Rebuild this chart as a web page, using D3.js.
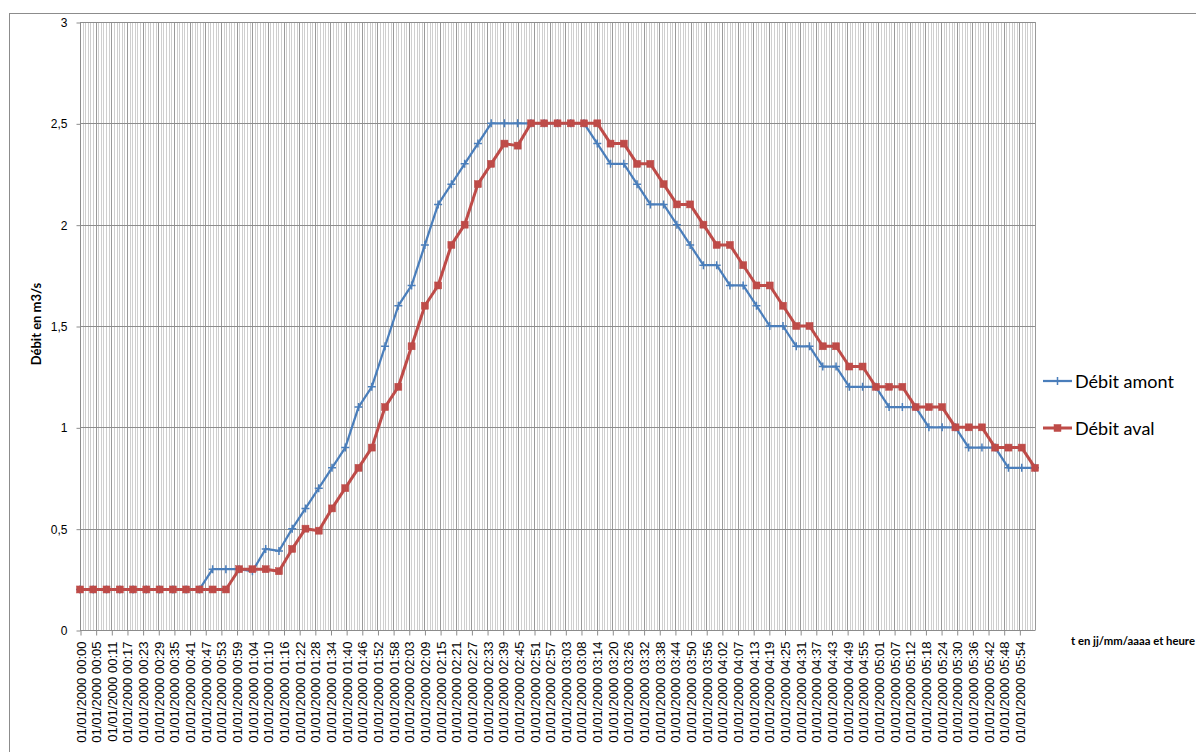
<!DOCTYPE html>
<html>
<head>
<meta charset="utf-8">
<script src="https://cdn.jsdelivr.net/npm/d3@7/dist/d3.min.js"></script>
<style>
  html, body { margin: 0; padding: 0; background: #ffffff; }
  svg { display: block; }
</style>
</head>
<body>
<svg id="chart" width="1196" height="752"></svg>
<script>
// Sampling times of the two discharge series (every 5 minutes)
const times = [
  "00:00","00:05","00:10","00:15","00:20","00:25","00:30","00:35","00:40","00:45",
  "00:50","00:55","01:00","01:05","01:10","01:15","01:20","01:25","01:30","01:35",
  "01:40","01:45","01:50","01:55","02:00","02:05","02:10","02:15","02:20","02:25",
  "02:30","02:35","02:40","02:45","02:50","02:55","03:00","03:05","03:10","03:15",
  "03:20","03:25","03:30","03:35","03:40","03:45","03:50","03:55","04:00","04:05",
  "04:10","04:15","04:20","04:25","04:30","04:35","04:40","04:45","04:50","04:55",
  "05:00","05:05","05:10","05:15","05:20","05:25","05:30","05:35","05:40","05:45",
  "05:50","05:55","06:00"
];

// Upstream discharge (m3/s)
const debitAmont = [
  0.2, 0.2, 0.2, 0.2, 0.2, 0.2, 0.2, 0.2, 0.2, 0.2,
  0.3, 0.3, 0.3, 0.29, 0.4, 0.39, 0.5, 0.6, 0.7, 0.8,
  0.9, 1.1, 1.2, 1.4, 1.6, 1.7, 1.9, 2.1, 2.2, 2.3,
  2.4, 2.5, 2.5, 2.5, 2.5, 2.5, 2.5, 2.5, 2.5, 2.4,
  2.3, 2.3, 2.2, 2.1, 2.1, 2.0, 1.9, 1.8, 1.8, 1.7,
  1.7, 1.6, 1.5, 1.5, 1.4, 1.4, 1.3, 1.3, 1.2, 1.2,
  1.2, 1.1, 1.1, 1.1, 1.0, 1.0, 1.0, 0.9, 0.9, 0.9,
  0.8, 0.8, 0.8
];

// Downstream discharge (m3/s)
const debitAval = [
  0.2, 0.2, 0.2, 0.2, 0.2, 0.2, 0.2, 0.2, 0.2, 0.2,
  0.2, 0.2, 0.3, 0.3, 0.3, 0.29, 0.4, 0.5, 0.49, 0.6,
  0.7, 0.8, 0.9, 1.1, 1.2, 1.4, 1.6, 1.7, 1.9, 2.0,
  2.2, 2.3, 2.4, 2.39, 2.5, 2.5, 2.5, 2.5, 2.5, 2.5,
  2.4, 2.4, 2.3, 2.3, 2.2, 2.1, 2.1, 2.0, 1.9, 1.9,
  1.8, 1.7, 1.7, 1.6, 1.5, 1.5, 1.4, 1.4, 1.3, 1.3,
  1.2, 1.2, 1.2, 1.1, 1.1, 1.1, 1.0, 1.0, 1.0, 0.9,
  0.9, 0.9, 0.8
];

// Category labels shown on the time axis (one every 6 categories)
const xTickLabels = [
  "01/01/2000 00:00","01/01/2000 00:05","01/01/2000 00:11","01/01/2000 00:17",
  "01/01/2000 00:23","01/01/2000 00:29","01/01/2000 00:35","01/01/2000 00:41",
  "01/01/2000 00:47","01/01/2000 00:53","01/01/2000 00:59","01/01/2000 01:04",
  "01/01/2000 01:10","01/01/2000 01:16","01/01/2000 01:22","01/01/2000 01:28",
  "01/01/2000 01:34","01/01/2000 01:40","01/01/2000 01:46","01/01/2000 01:52",
  "01/01/2000 01:58","01/01/2000 02:03","01/01/2000 02:09","01/01/2000 02:15",
  "01/01/2000 02:21","01/01/2000 02:27","01/01/2000 02:33","01/01/2000 02:39",
  "01/01/2000 02:45","01/01/2000 02:51","01/01/2000 02:57","01/01/2000 03:03",
  "01/01/2000 03:08","01/01/2000 03:14","01/01/2000 03:20","01/01/2000 03:26",
  "01/01/2000 03:32","01/01/2000 03:38","01/01/2000 03:44","01/01/2000 03:50",
  "01/01/2000 03:56","01/01/2000 04:02","01/01/2000 04:07","01/01/2000 04:13",
  "01/01/2000 04:19","01/01/2000 04:25","01/01/2000 04:31","01/01/2000 04:37",
  "01/01/2000 04:43","01/01/2000 04:49","01/01/2000 04:55","01/01/2000 05:01",
  "01/01/2000 05:07","01/01/2000 05:12","01/01/2000 05:18","01/01/2000 05:24",
  "01/01/2000 05:30","01/01/2000 05:36","01/01/2000 05:42","01/01/2000 05:48",
  "01/01/2000 05:54"
];

const yTicks = [0, 0.5, 1, 1.5, 2, 2.5, 3];

const categoryCount = 366;   // category intervals spanning the time axis
const labelEvery = 6;        // one label per 6 categories

const svg = d3.select("#chart");
const W = 1196, H = 752;
const plot = { left: 80, right: 1035, top: 22, bottom: 630 };

// Chart area frame
svg.append("rect")
  .attr("x", 9.5).attr("y", 13.5)
  .attr("width", W + 20).attr("height", H + 20)
  .attr("fill", "#ffffff")
  .attr("stroke", "#8c8c8c").attr("stroke-width", 1);

const toMinutes = t => { const [h, m] = t.split(":").map(Number); return h * 60 + m; };

const x = d3.scaleLinear()
  .domain([0, toMinutes(times[times.length - 1])])
  .range([plot.left, plot.right]);
const xCat = d3.scaleLinear()
  .domain([0, categoryCount])
  .range([plot.left, plot.right]);
const y = d3.scaleLinear()
  .domain([0, 3])
  .range([plot.bottom, plot.top]);

const grid = svg.append("g");

// Minor category gridlines
const cats = d3.range(0, categoryCount + 1);
grid.selectAll("line.minor")
  .data(cats.filter(c => c % labelEvery !== 0))
  .join("line")
  .attr("class", "minor")
  .attr("x1", d => Math.round(xCat(d)) + 0.5)
  .attr("x2", d => Math.round(xCat(d)) + 0.5)
  .attr("y1", plot.top).attr("y2", plot.bottom)
  .attr("stroke", "#cfcfcf").attr("stroke-width", 1);

// Major gridlines at labelled categories
grid.selectAll("line.major")
  .data(cats.filter(c => c % labelEvery === 0))
  .join("line")
  .attr("class", "major")
  .attr("x1", d => Math.round(xCat(d)) + 0.5)
  .attr("x2", d => Math.round(xCat(d)) + 0.5)
  .attr("y1", plot.top).attr("y2", plot.bottom)
  .attr("stroke", "#9a9a9a").attr("stroke-width", 1);

// Horizontal value gridlines
grid.selectAll("line.h")
  .data(yTicks)
  .join("line")
  .attr("class", "h")
  .attr("x1", plot.left).attr("x2", plot.right)
  .attr("y1", d => Math.round(y(d)) + 0.5)
  .attr("y2", d => Math.round(y(d)) + 0.5)
  .attr("stroke", "#8c8c8c").attr("stroke-width", 1);

// Y axis
const fmtFr = d => String(d).replace(".", ",");
const yAxis = d3.axisLeft(y).tickValues(yTicks).tickFormat(fmtFr).tickSize(4).tickPadding(9);
const gy = svg.append("g").attr("transform", `translate(${plot.left + 0.5},0.5)`).call(yAxis);
gy.select(".domain").attr("stroke", "#8c8c8c").attr("d", `M0,${plot.top}V${plot.bottom}`);
gy.selectAll(".tick line").attr("stroke", "#8c8c8c");
gy.selectAll(".tick text")
  .attr("font-family", "'Liberation Sans', Arial, sans-serif")
  .attr("font-size", 12).attr("fill", "#000");

// X axis (category labels, rotated)
const labelCats = xTickLabels.map((_, i) => i * labelEvery);
const xAxis = d3.axisBottom(xCat)
  .tickValues(labelCats)
  .tickFormat((d, i) => xTickLabels[i])
  .tickSize(5);
const gx = svg.append("g").attr("transform", `translate(0.5,${plot.bottom + 0.5})`).call(xAxis);
gx.select(".domain").attr("stroke", "#8c8c8c").attr("d", `M${plot.left},0H${plot.right}`);
gx.selectAll(".tick line").attr("stroke", "#8c8c8c");
gx.selectAll(".tick text")
  .attr("font-family", "'Liberation Sans', Arial, sans-serif")
  .attr("font-size", 13).attr("fill", "#000")
  .attr("text-anchor", "end")
  .attr("dy", null)
  .attr("transform", "translate(4.5,11) rotate(-90)")
  .attr("x", 0).attr("y", 0);

// Axis titles
svg.append("text")
  .attr("transform", `translate(41,${(plot.top + plot.bottom) / 2 - 2}) rotate(-90)`)
  .attr("text-anchor", "middle")
  .attr("font-family", "Lato, 'Liberation Sans', sans-serif")
  .attr("font-weight", "bold").attr("font-size", 13)
  .text("Débit en m3/s");

svg.append("text")
  .attr("x", 1071).attr("y", 645)
  .attr("font-family", "Lato, 'Liberation Sans', sans-serif")
  .attr("font-weight", "bold").attr("font-size", 11.3)
  .text("t en jj/mm/aaaa et heure");

// Series
const series = [
  { name: "Débit amont", values: debitAmont, color: "#4A7EBB", width: 2.25, marker: "plus" },
  { name: "Débit aval", values: debitAval, color: "#BE4B48", width: 3, marker: "square" }
];

const line = d3.line()
  .x(d => x(toMinutes(d.t)))
  .y(d => y(d.v));

function drawMarker(g, type, color) {
  if (type === "square") {
    g.append("rect")
      .attr("x", -3.5).attr("y", -3.5).attr("width", 7).attr("height", 7)
      .attr("fill", color).attr("stroke", color).attr("stroke-width", 0.5);
  } else {
    g.append("path")
      .attr("d", "M-4,0H4M0,-4V4")
      .attr("stroke", color).attr("stroke-width", 1.5).attr("fill", "none");
  }
}

series.forEach(s => {
  const pts = times.map((t, i) => ({ t, v: s.values[i] }));
  svg.append("path")
    .datum(pts)
    .attr("fill", "none")
    .attr("stroke", s.color)
    .attr("stroke-width", s.width)
    .attr("stroke-linejoin", "round")
    .attr("d", line);
  const mk = svg.append("g");
  pts.forEach(p => {
    const g = mk.append("g").attr("transform", `translate(${x(toMinutes(p.t))},${y(p.v)})`);
    drawMarker(g, s.marker, s.color);
  });
});

// Legend
const legend = svg.append("g");
series.forEach((s, i) => {
  const ly = 381 + i * 47;
  const g = legend.append("g").attr("transform", `translate(1043,${ly})`);
  g.append("line").attr("x1", 0).attr("x2", 29).attr("y1", 0).attr("y2", 0)
    .attr("stroke", s.color).attr("stroke-width", s.width);
  const m = g.append("g").attr("transform", "translate(14.5,0)");
  drawMarker(m, s.marker, s.color);
  g.append("text")
    .attr("x", 32).attr("y", 6.5)
    .attr("font-family", "Lato, 'Liberation Sans', sans-serif")
    .attr("font-size", 18).attr("fill", "#000")
    .text(s.name);
});
</script>
</body>
</html>
